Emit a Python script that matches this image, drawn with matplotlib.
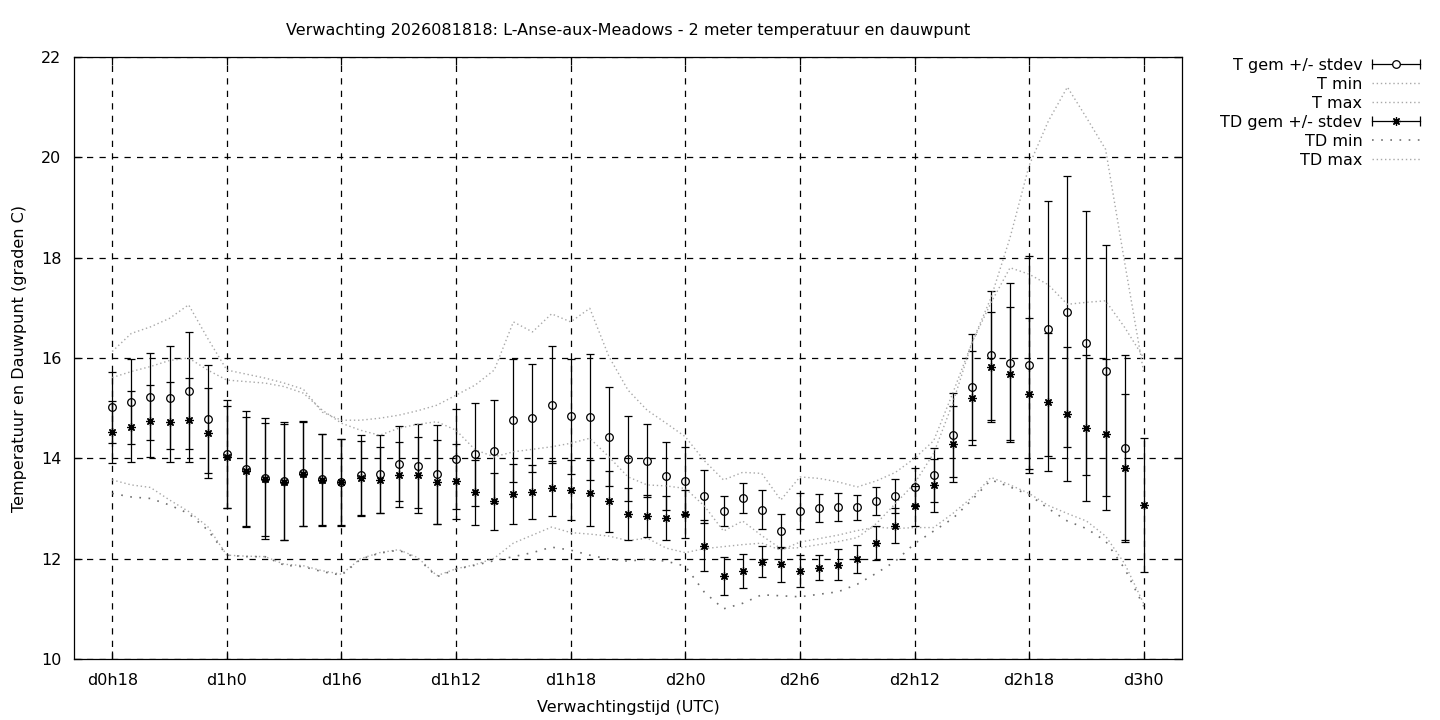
import numpy as np
import matplotlib.pyplot as plt
from matplotlib.lines import Line2D
from matplotlib.container import ErrorbarContainer
from matplotlib.legend_handler import HandlerBase

# forecast lead time in hours since d0h0 (hourly, d0h18 .. d3h0)
hours = list(range(18, 73))
tick_hours = [18, 24, 30, 36, 42, 48, 54, 60, 66, 72]
tick_labels = ["d0h18", "d1h0", "d1h6", "d1h12", "d1h18",
               "d2h0", "d2h6", "d2h12", "d2h18", "d3h0"]

# 2 m temperature: ensemble mean and stdev
t_mean = [15.02, 15.13, 15.23, 15.21, 15.35, 14.79, 14.08, 13.79, 13.60, 13.55,
          13.70, 13.58, 13.53, 13.66, 13.69, 13.89, 13.84, 13.68, 13.99, 14.08,
          14.14, 14.76, 14.80, 15.07, 14.84, 14.82, 14.43, 13.99, 13.95, 13.65,
          13.55, 13.24, 12.95, 13.21, 12.98, 12.56, 12.95, 13.01, 13.03, 13.02,
          13.15, 13.25, 13.43, 13.66, 14.46, 15.42, 16.05, 15.91, 15.87, 16.58,
          16.92, 16.30, 15.75, 14.21, np.nan]
t_sd = [0.71, 0.85, 0.87, 1.03, 1.17, 1.08, 1.08, 1.15, 1.20, 1.17,
        1.04, 0.91, 0.86, 0.81, 0.77, 0.75, 0.84, 0.98, 1.00, 1.03,
        1.03, 1.23, 1.08, 1.16, 1.15, 1.25, 0.99, 0.85, 0.73, 0.68,
        0.67, 0.52, 0.30, 0.29, 0.38, 0.34, 0.35, 0.27, 0.28, 0.24,
        0.27, 0.33, 0.37, 0.54, 0.84, 1.06, 1.28, 1.58, 2.17, 2.54,
        2.70, 2.63, 2.51, 1.84, np.nan]
t_min = [13.57, 13.47, 13.42, 13.17, 12.94, 12.64, 12.07, 12.05, 12.04, 11.89,
         11.86, 11.76, 11.69, 12.00, 12.12, 12.18, 12.02, 11.66, 11.80, 11.88,
         12.01, 12.31, 12.47, 12.63, 12.52, 12.49, 12.45, 12.36, 12.41, 12.21,
         12.12, 12.20, 12.24, 12.28, 12.31, 12.17, 12.33, 12.40, 12.47, 12.56,
         12.63, 12.60, 12.62, 12.62, 12.90, 13.22, 13.62, 13.47, 13.30, 13.06,
         12.90, 12.75, 12.45, 11.90, 11.10]
t_max = [16.13, 16.49, 16.62, 16.79, 17.06, 16.39, 15.76, 15.68, 15.60, 15.50,
         15.38, 14.92, 14.76, 14.76, 14.80, 14.86, 14.95, 15.06, 15.26, 15.46,
         15.76, 16.72, 16.52, 16.88, 16.72, 16.99, 16.03, 15.36, 14.96, 14.70,
         14.43, 13.95, 13.57, 13.72, 13.70, 13.17, 13.63, 13.60, 13.53, 13.43,
         13.55, 13.72, 14.00, 14.35, 15.30, 16.30, 17.20, 18.40, 19.84, 20.72,
         21.40, 20.79, 20.16, 17.90, 15.70]

# dew point: ensemble mean and stdev
td_mean = [14.52, 14.63, 14.74, 14.72, 14.76, 14.50, 14.03, 13.74, 13.58, 13.53,
           13.69, 13.57, 13.52, 13.61, 13.57, 13.67, 13.67, 13.53, 13.54, 13.32,
           13.14, 13.29, 13.33, 13.40, 13.37, 13.31, 13.14, 12.89, 12.85, 12.81,
           12.89, 12.26, 11.66, 11.75, 11.94, 11.89, 11.76, 11.82, 11.88, 11.99,
           12.32, 12.66, 13.05, 13.46, 14.28, 15.20, 15.82, 15.69, 15.29, 15.12,
           14.88, 14.60, 14.48, 13.81, 13.07]
td_sd = [0.62, 0.71, 0.72, 0.80, 0.84, 0.90, 1.02, 1.08, 1.13, 1.16,
         1.04, 0.91, 0.86, 0.74, 0.65, 0.65, 0.75, 0.83, 0.75, 0.64,
         0.57, 0.59, 0.54, 0.54, 0.60, 0.65, 0.61, 0.52, 0.42, 0.43,
         0.48, 0.51, 0.38, 0.34, 0.31, 0.35, 0.32, 0.25, 0.31, 0.28,
         0.34, 0.34, 0.39, 0.53, 0.76, 0.93, 1.10, 1.33, 1.50, 1.38,
         1.33, 1.45, 1.51, 1.47, 1.34]
td_min = [13.30, 13.23, 13.20, 13.07, 12.90, 12.57, 12.07, 12.04, 12.04, 11.87,
          11.84, 11.74, 11.67, 11.99, 12.11, 12.17, 12.00, 11.64, 11.79, 11.87,
          11.96, 12.04, 12.12, 12.23, 12.17, 12.07, 11.99, 11.95, 11.99, 11.95,
          11.85, 11.33, 11.00, 11.11, 11.28, 11.26, 11.24, 11.29, 11.34, 11.49,
          11.71, 11.95, 12.30, 12.55, 12.80, 13.17, 13.57, 13.43, 13.27, 13.00,
          12.75, 12.60, 12.35, 11.80, 11.05]
td_max = [15.61, 15.73, 15.83, 15.95, 16.00, 15.76, 15.56, 15.53, 15.50, 15.43,
          15.30, 14.96, 14.70, 14.56, 14.46, 14.60, 14.68, 14.73, 14.56, 14.17,
          14.03, 14.13, 14.18, 14.23, 14.30, 14.40, 14.03, 13.63, 13.47, 13.45,
          13.40, 13.05, 12.55, 12.75, 12.46, 12.20, 12.22, 12.28, 12.34, 12.42,
          12.70, 13.10, 13.50, 14.10, 15.10, 16.30, 17.10, 17.80, 17.67, 17.46,
          17.07, 17.11, 17.14, 16.61, 16.00]


class GnuplotErrHandler(HandlerBase):
    # gnuplot style key sample: |--o--|
    def create_artists(self, legend, orig_handle, xdescent, ydescent,
                       width, height, fontsize, trans):
        src = orig_handle.lines[0]
        y = height / 2 - ydescent
        x0, x1 = -xdescent, width - xdescent
        bar = Line2D([x0, x1], [y, y], color="black", lw=0.9)
        caps = Line2D([x0, x1], [y, y], ls="none", marker="|", ms=7,
                      mew=0.9, color="black")
        mark = Line2D([(x0 + x1) / 2], [y], ls="none", marker=src.get_marker(),
                      ms=src.get_markersize(), mfc="white", mec="black",
                      mew=src.get_markeredgewidth())
        for a in (bar, caps, mark):
            a.set_transform(trans)
        return [bar, caps, mark]


plt.rcParams["font.family"] = "DejaVu Sans"
plt.rcParams["font.size"] = 11.5

fig = plt.figure(figsize=(14.4, 7.2), dpi=100)
ax = fig.add_axes([74 / 1440, 1 - 659 / 720, (1182 - 74) / 1440, (659 - 57) / 720])

light = "#a8a8a8"
star = (8, 2, 0)

h_t = ax.errorbar(hours, t_mean, yerr=t_sd, ls="none", marker="o", ms=5.5, mfc="none",
                  mec="black", mew=0.9, ecolor="black", elinewidth=0.9,
                  capsize=3, capthick=0.9)
h_tmin, = ax.plot(hours, t_min, color=light, lw=1.0, ls=(0, (1, 2)))
h_tmax, = ax.plot(hours, t_max, color=light, lw=1.0, ls=(0, (1, 2)))
h_td = ax.errorbar(hours, td_mean, yerr=td_sd, ls="none", marker=star, ms=6,
                   mec="black", mew=0.9, ecolor="black", elinewidth=0.9,
                   capsize=3, capthick=0.9)
h_tdmin, = ax.plot(hours, td_min, color="#707070", lw=1.2, ls=(0, (1, 4.5)))
h_tdmax, = ax.plot(hours, td_max, color=light, lw=1.0, ls=(0, (1, 2)))

ax.set_xlim(16, 74)
ax.set_ylim(10, 22)
ax.set_xticks(tick_hours)
ax.set_xticklabels(tick_labels)
ax.set_yticks([10, 12, 14, 16, 18, 20, 22])
ax.tick_params(direction="in", length=6, width=0.9, top=True, right=True)
ax.tick_params(axis="x", pad=10)
ax.tick_params(axis="y", pad=9)
ax.grid(True, color="black", lw=0.9, ls=(0, (5, 5)))
for s in ax.spines.values():
    s.set_linewidth(0.9)

ax.set_xlabel("Verwachtingstijd (UTC)", labelpad=9)
ax.set_ylabel("Temperatuur en Dauwpunt (graden C)", labelpad=10)
fig.text(628 / 1440, 1 - 30 / 720,
         "Verwachting 2026081818: L-Anse-aux-Meadows - 2 meter temperatuur en dauwpunt",
         ha="center", va="center")

ax.legend([h_t, h_tmin, h_tmax, h_td, h_tdmin, h_tdmax],
          ["T gem +/- stdev", "T min", "T max", "TD gem +/- stdev", "TD min", "TD max"],
          handler_map={ErrorbarContainer: GnuplotErrHandler()},
          loc="upper right", bbox_to_anchor=(1420 / 1440, 1 - 58 / 720),
          bbox_transform=fig.transFigure, frameon=False, markerfirst=False,
          handlelength=3.0, handletextpad=0.6, labelspacing=0.25,
          borderpad=0, borderaxespad=0)

fig.savefig("out.png", dpi=100)
